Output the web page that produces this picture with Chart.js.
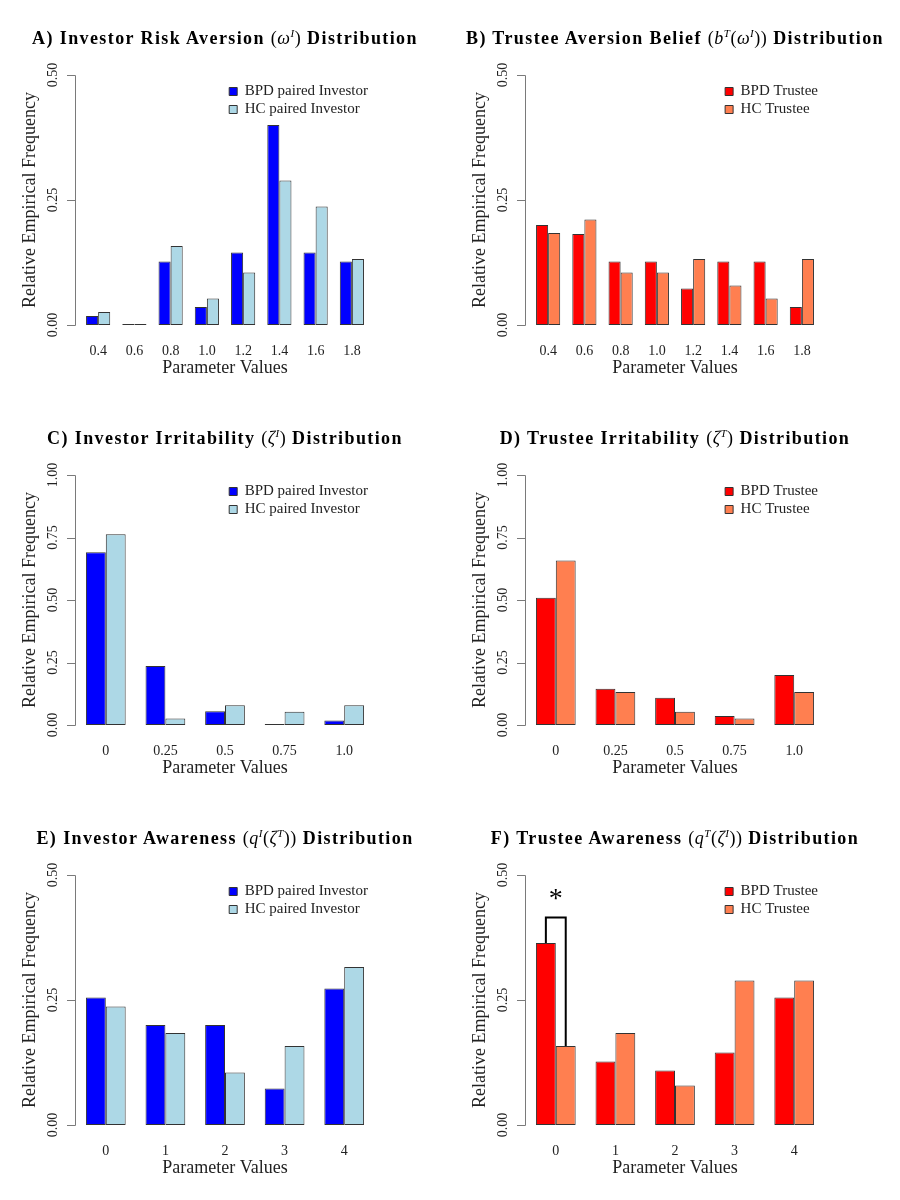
<!DOCTYPE html>
<html>
<head>
<meta charset="utf-8">
<script src="https://cdn.jsdelivr.net/npm/chart.js@4.4.1/dist/chart.umd.min.js"></script>
<style>
  body { margin: 0; background: #fff; }
  #page { position: relative; width: 900px; height: 1200px; }
  .panel { position: absolute; width: 450px; height: 400px; }
  .panel canvas { position: absolute; left: 0; top: 0; }
  .panel h2 {
    position: absolute; left: 0; top: 28px; width: 450px; margin: 0;
    text-align: center; white-space: nowrap; color: #000;
    font: bold 18px/20px "Liberation Serif", serif; letter-spacing: 1.4px;
  }
  .panel h2 .m { font-weight: normal; letter-spacing: 0.5px; }
  .panel h2 i { font-weight: normal; }
  .panel h2 sup { font-size: 11px; line-height: 0; }
</style>
</head>
<body>
<div id="page">
  <div class="panel" style="left:0;top:0">
    <canvas id="chartA" width="450" height="400"></canvas>
    <h2>A) Investor Risk Aversion <span class="m">(<i>ω</i><sup><i>I</i></sup>)</span> Distribution</h2>
  </div>
  <div class="panel" style="left:450px;top:0">
    <canvas id="chartB" width="450" height="400"></canvas>
    <h2>B) Trustee Aversion Belief <span class="m">(<i>b</i><sup><i>T</i></sup>(<i>ω</i><sup><i>I</i></sup>))</span> Distribution</h2>
  </div>
  <div class="panel" style="left:0;top:400px">
    <canvas id="chartC" width="450" height="400"></canvas>
    <h2>C) Investor Irritability <span class="m">(<i>ζ</i><sup><i>I</i></sup>)</span> Distribution</h2>
  </div>
  <div class="panel" style="left:450px;top:400px">
    <canvas id="chartD" width="450" height="400"></canvas>
    <h2>D) Trustee Irritability <span class="m">(<i>ζ</i><sup><i>T</i></sup>)</span> Distribution</h2>
  </div>
  <div class="panel" style="left:0;top:800px">
    <canvas id="chartE" width="450" height="400"></canvas>
    <h2>E) Investor Awareness <span class="m">(<i>q</i><sup><i>I</i></sup>(<i>ζ</i><sup><i>T</i></sup>))</span> Distribution</h2>
  </div>
  <div class="panel" style="left:450px;top:800px">
    <canvas id="chartF" width="450" height="400"></canvas>
    <h2>F) Trustee Awareness <span class="m">(<i>q</i><sup><i>T</i></sup>(<i>ζ</i><sup><i>I</i></sup>))</span> Distribution</h2>
  </div>
</div>

<script>
// categories
const aversionLabels = ["0.4", "0.6", "0.8", "1.0", "1.2", "1.4", "1.6", "1.8"];
const irritLabels = ["0", "0.25", "0.5", "0.75", "1.0"];
const awareLabels = ["0", "1", "2", "3", "4"];

// relative frequencies
const riskBpd = [0.018, 0, 0.127, 0.036, 0.145, 0.400, 0.145, 0.127];
const riskHc = [0.026, 0, 0.158, 0.053, 0.105, 0.289, 0.237, 0.132];
const beliefBpd = [0.200, 0.182, 0.127, 0.127, 0.073, 0.127, 0.127, 0.036];
const beliefHc = [0.184, 0.211, 0.105, 0.105, 0.132, 0.079, 0.053, 0.132];
const invIrritBpd = [0.691, 0.236, 0.055, 0, 0.018];
const invIrritHc = [0.763, 0.026, 0.079, 0.053, 0.079];
const truIrritBpd = [0.509, 0.145, 0.109, 0.036, 0.200];
const truIrritHc = [0.658, 0.132, 0.053, 0.026, 0.132];
const invAwareBpd = [0.255, 0.200, 0.200, 0.073, 0.273];
const invAwareHc = [0.237, 0.184, 0.105, 0.158, 0.316];
const truAwareBpd = [0.364, 0.127, 0.109, 0.145, 0.255];
const truAwareHc = [0.158, 0.184, 0.079, 0.289, 0.289];

// y tick labels
const halfTicks = ["0.00", "0.25", "0.50"];
const fullTicks = ["0.00", "0.25", "0.50", "0.75", "1.00"];

// significance marker in panel F (bracket height, star height)
const sigLevels = [0.415, 0.466];

const investorNames = ["BPD paired Investor", "HC paired Investor"];
const trusteeNames = ["BPD Trustee", "HC Trustee"];
const investorColors = ["#0000ff", "#add8e6"];
const trusteeColors = ["#ff0000", "#ff7f50"];

const SERIF = '"Liberation Serif", "DejaVu Serif", serif';
Chart.defaults.font.family = SERIF;

// R-like y axis (line only between end ticks, rotated labels) + legend placement
const rAxis = {
  id: 'rAxis',
  afterLayout(chart, args, opts) {
    const lg = chart.legend;
    if (lg && lg.columnSizes && lg.columnSizes.length) {
      const pad = lg.options.labels.padding;
      lg.left = opts.legendRight - pad - lg.columnSizes[0].width;
      lg.right = lg.left + lg.width;
      lg.top = opts.legendTop;
    }
  },
  afterDraw(chart, args, opts) {
    const ctx = chart.ctx;
    const ys = chart.scales.y;
    const ticks = opts.ticks;
    const ax = opts.axisX;
    const top = Math.round(ys.getPixelForValue(parseFloat(ticks[ticks.length - 1]))) + 0.5;
    const bot = Math.round(ys.getPixelForValue(parseFloat(ticks[0]))) + 0.5;
    ctx.save();
    ctx.strokeStyle = '#7a7a7a';
    ctx.lineWidth = 1;
    ctx.beginPath();
    ctx.moveTo(ax + 0.5, top);
    ctx.lineTo(ax + 0.5, bot);
    ticks.forEach(t => {
      const py = Math.round(ys.getPixelForValue(parseFloat(t))) + 0.5;
      ctx.moveTo(ax - 8, py);
      ctx.lineTo(ax + 0.5, py);
    });
    ctx.stroke();
    ctx.fillStyle = '#222';
    ctx.textAlign = 'center';
    ctx.textBaseline = 'middle';
    ctx.font = '14px ' + SERIF;
    ticks.forEach(t => {
      const py = ys.getPixelForValue(parseFloat(t));
      ctx.save();
      ctx.translate(ax - 22, py);
      ctx.rotate(-Math.PI / 2);
      ctx.fillText(t, 0, 0);
      ctx.restore();
    });
    ctx.font = '18px ' + SERIF;
    ctx.translate(opts.titleX, (chart.chartArea.top + chart.chartArea.bottom) / 2);
    ctx.rotate(-Math.PI / 2);
    ctx.fillText('Relative Empirical Frequency', 0, 0);
    ctx.restore();
  }
};

// bracket and star between the two bars of the first group
const sigMark = {
  id: 'sigMark',
  afterDatasetsDraw(chart, args, opts) {
    const ctx = chart.ctx;
    const ys = chart.scales.y;
    const b0 = chart.getDatasetMeta(0).data[0];
    const b1 = chart.getDatasetMeta(1).data[0];
    const yb = ys.getPixelForValue(opts.levels[0]);
    ctx.save();
    ctx.strokeStyle = '#000';
    ctx.lineWidth = 2;
    ctx.beginPath();
    ctx.moveTo(b0.x, b0.y);
    ctx.lineTo(b0.x, yb);
    ctx.lineTo(b1.x, yb);
    ctx.lineTo(b1.x, b1.y);
    ctx.stroke();
    ctx.fillStyle = '#000';
    ctx.textAlign = 'center';
    ctx.textBaseline = 'middle';
    ctx.font = '28px ' + SERIF;
    ctx.fillText('*', chart.scales.x.getPixelForValue(0), ys.getPixelForValue(opts.levels[1]) + 8);
    ctx.restore();
  }
};

function makeChart(id, labels, bpd, hc, names, colors, yMax, yTicks, extra) {
  const side = labels.length === 8 ? 80 : 76;
  const plugins = [rAxis];
  if (extra) plugins.push(sigMark);
  return new Chart(document.getElementById(id), {
    type: 'bar',
    data: {
      labels: labels,
      datasets: [
        { label: names[0], data: bpd, backgroundColor: colors[0] },
        { label: names[1], data: hc, backgroundColor: colors[1] }
      ]
    },
    options: {
      responsive: false,
      animation: false,
      layout: { padding: { left: side, right: side, top: 75, bottom: 15 } },
      datasets: {
        bar: {
          categoryPercentage: 2 / 3,
          barPercentage: 1,
          borderColor: '#333',
          borderWidth: 1,
          borderSkipped: false,
          minBarLength: 1
        }
      },
      scales: {
        x: {
          grid: { display: false, drawTicks: false },
          border: { display: false },
          ticks: { color: '#222', font: { size: 14 }, padding: 18, maxRotation: 0, autoSkip: false },
          title: {
            display: true, text: 'Parameter Values', color: '#222',
            font: { size: 18 }, padding: { top: 0, bottom: 6 }
          },
          afterFit: s => { s.height = 60; }
        },
        y: { display: false, min: 0, max: yMax }
      },
      plugins: {
        legend: {
          position: 'chartArea',
          align: 'start',
          labels: { boxWidth: 8, boxHeight: 8, padding: 3, color: '#222', font: { size: 15 } }
        },
        tooltip: { enabled: false },
        rAxis: { ticks: yTicks, axisX: 75, titleX: 30, legendRight: 368, legendTop: 81 },
        sigMark: { levels: sigLevels }
      }
    },
    plugins: plugins
  });
}

makeChart('chartA', aversionLabels, riskBpd, riskHc, investorNames, investorColors, 0.5, halfTicks);
makeChart('chartB', aversionLabels, beliefBpd, beliefHc, trusteeNames, trusteeColors, 0.5, halfTicks);
makeChart('chartC', irritLabels, invIrritBpd, invIrritHc, investorNames, investorColors, 1.0, fullTicks);
makeChart('chartD', irritLabels, truIrritBpd, truIrritHc, trusteeNames, trusteeColors, 1.0, fullTicks);
makeChart('chartE', awareLabels, invAwareBpd, invAwareHc, investorNames, investorColors, 0.5, halfTicks);
makeChart('chartF', awareLabels, truAwareBpd, truAwareHc, trusteeNames, trusteeColors, 0.5, halfTicks, true);
</script>
</body>
</html>
